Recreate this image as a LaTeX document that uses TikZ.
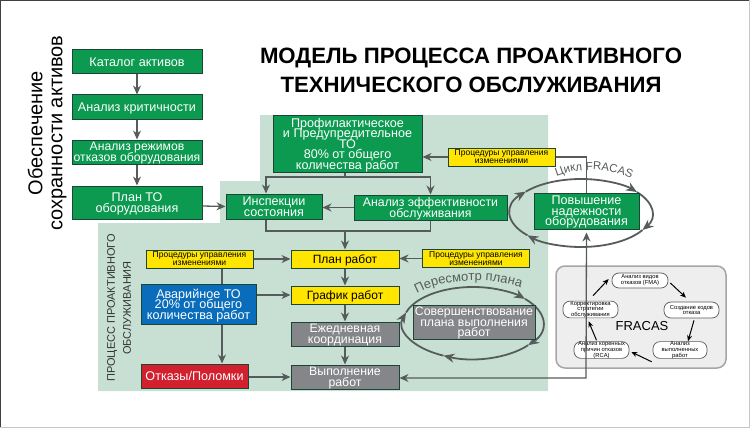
\documentclass[tikz,border=0pt]{standalone}
\usepackage{fontspec}
\setmainfont{Liberation Sans}
\usetikzlibrary{arrows.meta,decorations.text}
\definecolor{boxgreen}{HTML}{0B9A50}
\definecolor{bandgreen}{HTML}{C8E0D3}
\definecolor{edgedark}{HTML}{1D4536}
\definecolor{flowgray}{HTML}{565C5B}
\definecolor{boxyellow}{HTML}{FFE500}
\definecolor{boxblue}{HTML}{0A6DBB}
\definecolor{boxred}{HTML}{D2202F}
\definecolor{boxgray}{HTML}{85868A}
\definecolor{palegray}{HTML}{EEEEEE}
\newcommand{\tightfont}[2]{\lineskiplimit=-20pt\fontsize{#1}{#2}\selectfont}
\tikzset{
    basebox/.style={draw=edgedark, line width=1pt, inner sep=0pt, align=center, text depth=0pt},
    greenbox/.style={basebox, fill=boxgreen, text=white, font=\tightfont{12.6}{10.5}},
    yellowbox/.style={basebox, fill=boxyellow, text=black, font=\tightfont{12}{13}},
    procbox/.style={basebox, fill=boxyellow, text=black, minimum width=107pt, minimum height=18pt, font=\tightfont{8.5}{8}},
    graybox/.style={basebox, fill=boxgray, text=white, font=\tightfont{12.3}{10.5}},
    minibox/.style={draw=flowgray, line width=0.7pt, fill=white, rounded corners=7pt, inner sep=0pt, align=center, font=\tightfont{5.8}{5.8}},
    flow/.style={draw=flowgray, line width=1.3pt, -{Stealth[length=9pt,width=8pt]}},
    plainflow/.style={draw=flowgray, line width=1.3pt},
    ringline/.style={draw=flowgray, line width=1.8pt, -{Stealth[length=11pt,width=9pt]}},
    miniflow/.style={draw=black, line width=1pt, -{Stealth[length=6pt,width=5pt]}},
}
\begin{document}
\begin{tikzpicture}[x=1pt, y=-1pt]
    \useasboundingbox (0,0) rectangle (750,428);
    % frame
    \draw[line width=2.5pt, black!75] (0,428) -- (0,0) -- (750,0);
    \draw[line width=1.5pt, black!22] (750,0) -- (750,428) -- (0,428);

    % title
    \node (title) [align=center, font=\fontsize{22.2}{29}\selectfont\bfseries] at (471,70)
        {МОДЕЛЬ ПРОЦЕССА ПРОАКТИВНОГО\\ТЕХНИЧЕСКОГО ОБСЛУЖИВАНИЯ};
    \node (assetlabel) [rotate=90, align=center, font=\tightfont{20}{20}] at (47,133)
        {Обеспечение\\сохранности активов};

    % green band
    \fill[bandgreen] (260,115) -- (548,115) -- (548,391) -- (98,391) -- (98,223)
        -- (220,223) -- (220,181) -- (260,181) -- cycle;
    \node (processlabel) [rotate=90, align=center, text=black!80, font=\tightfont{11}{16}] at (119,308)
        {ПРОЦЕСС ПРОАКТИВНОГО\\ОБСЛУЖИВАНИЯ};

    % left column
    \node (catalog) [greenbox, minimum width=130pt, minimum height=24pt] at (137,62) {Каталог активов};
    \node (critical) [greenbox, minimum width=130pt, minimum height=24pt] at (137,107) {Анализ критичности};
    \node (modes) [greenbox, minimum width=130pt, minimum height=24pt, font=\tightfont{12.2}{10.5}] at (137,152) {Анализ режимов\\отказов оборудования};
    \node (toplan) [greenbox, minimum width=130pt, minimum height=33pt] at (137,202.5) {План ТО\\оборудования};

    % upper boxes
    \node (prevent) [greenbox, minimum width=149pt, minimum height=57pt] at (347.5,143.5)
        {Профилактическое\\и Предупредительное\\ТО\\80\% от общего\\количества работ};
    \node (inspect) [greenbox, minimum width=96pt, minimum height=25pt] at (274,206.5) {Инспекции\\состояния};
    \node (effect) [greenbox, minimum width=153pt, minimum height=25pt, font=\tightfont{12.3}{10.5}] at (430.5,207.5) {Анализ эффективности\\обслуживания};
    \node (procup) [procbox] at (501.5,157) {Процедуры управления\\изменениями};

    % middle column
    \node (workplan) [yellowbox, minimum width=108pt, minimum height=18pt] at (345,259) {План работ};
    \node (schedule) [yellowbox, minimum width=108pt, minimum height=18pt] at (345,295) {График работ};
    \node (daily) [graybox, minimum width=108pt, minimum height=24pt] at (345,334) {Ежедневная\\координация};
    \node (execute) [graybox, minimum width=108pt, minimum height=24pt] at (345,377) {Выполнение\\работ};
    \node (procleft) [procbox] at (199.5,259) {Процедуры управления\\изменениями};
    \node (procright) [procbox] at (476,258.5) {Процедуры управления\\изменениями};
    \node (urgent) [greenbox, fill=boxblue, minimum width=115pt, minimum height=40pt] at (198.5,304)
        {Аварийное ТО\\20\% от общего\\количества работ};
    \node (failure) [greenbox, fill=boxred, minimum width=107pt, minimum height=24pt] at (194.5,376) {Отказы/Поломки};

    % rings
    \coordinate (planring) at (473,323);
    \coordinate (fracring) at (581,213);
    \draw[ringline] (planring) ++(163:70pt and 36pt) arc (163:42:70pt and 36pt);
    \draw[ringline] (planring) ++(42:70pt and 36pt) arc (42:-38:70pt and 36pt);
    \draw[ringline] (planring) ++(-38:70pt and 36pt) arc (-38:-115:70pt and 36pt);
    \draw[ringline] (planring) ++(-115:70pt and 36pt) arc (-115:-197:70pt and 36pt);
    \draw[ringline] (fracring) ++(141:71pt and 34pt) arc (141:38:71pt and 34pt);
    \draw[ringline] (fracring) ++(38:71pt and 34pt) arc (38:-30:71pt and 34pt);
    \draw[ringline] (fracring) ++(-30:71pt and 34pt) arc (-30:-139:71pt and 34pt);
    \draw[ringline] (fracring) ++(-139:71pt and 34pt) arc (-139:-219:71pt and 34pt);
    \node (improveplan) [graybox, minimum width=122pt, minimum height=34pt] at (474,322)
        {Совершенствование\\плана выполнения\\работ};
    \node (reliable) [greenbox, minimum width=105pt, minimum height=36pt] at (586.5,211)
        {Повышение\\надежности\\оборудования};
    \path[decorate, decoration={text along path, text align=center,
        text={|\fontsize{13}{13}\selectfont\color{flowgray}|Пересмотр плана}}]
        (414,295) .. controls (440,278) and (495,276) .. (524,289);
    \path[decorate, decoration={text along path, text align=center,
        text={|\fontsize{11.5}{12}\selectfont\color{flowgray}|Цикл FRACAS}}]
        (553,178) .. controls (575,167) and (610,167) .. (635,180);

    % FRACAS panel
    \node (fracbox) [draw=black!35, line width=1.5pt, fill=palegray, rounded corners=9pt,
        minimum width=170pt, minimum height=102pt] at (641,317) {};
    \node (fma) [minibox, minimum width=56pt, minimum height=15pt] at (640,280.5) {Анализ видов\\отказов (FMA)};
    \node (codes) [minibox, minimum width=55pt, minimum height=16pt] at (691.5,310) {Создание кодов\\отказа};
    \node (done) [minibox, minimum width=54pt, minimum height=16pt] at (680,350) {Анализ\\выполненных\\работ};
    \node (rca) [minibox, minimum width=55pt, minimum height=16pt] at (601.5,350) {Анализ коренных\\причин отказов\\(RCA)};
    \node (adjust) [minibox, minimum width=55pt, minimum height=15pt] at (590.5,309.5) {Корректировка\\стратегии\\обслуживания};
    \node (fractext) [font=\fontsize{13}{14}\selectfont] at (642,326) {FRACAS};
    \draw[miniflow] ([xshift=2pt,yshift=-2.5pt]fma.east) -- ([xshift=-5.5pt,yshift=4pt]codes.north);
    \draw[miniflow] ([xshift=2.5pt,yshift=-2pt]codes.south) -- ([xshift=8pt,yshift=0pt]done.north);
    \draw[miniflow] ([xshift=-1pt,yshift=-3pt]done.south west) -- ([xshift=2pt,yshift=-2pt]rca.east);
    \draw[miniflow] ([xshift=-5pt,yshift=1pt]rca.north) -- ([xshift=-2pt,yshift=-3pt]adjust.south);
    \draw[miniflow] ([xshift=2.5pt,yshift=5pt]adjust.north) -- ([xshift=-3pt,yshift=1.5pt]fma.west);

    % left column flow
    \draw[flow] (catalog) -- (critical);
    \draw[flow] (critical) -- (modes);
    \draw[flow] (modes) -- (toplan);
    \draw[flow] ([yshift=-3.5pt]toplan.east) -- (inspect.west);

    % upper flow
    \coordinate (split) at (345,177);
    \coordinate (join) at (345,231);
    \draw[plainflow] ([xshift=-2.5pt]prevent.south) -- (split);
    \draw[flow] (split) -| ([xshift=-8pt]inspect.north);
    \draw[flow] (split) -| (effect.north);
    \draw[flow] (effect.west) -- (effect.west -| inspect.east);
    \draw[plainflow] ([xshift=-8pt]inspect.south) |- (join) -| (effect.south);
    \draw[flow] (join) -- (workplan.north);
    \draw[flow] (procup.west) -- (procup.west -| prevent.east);
    \draw[plainflow] (procup.east) -| (reliable.north);

    % middle flow
    \draw[flow] (workplan) -- (schedule);
    \draw[flow] (schedule) -- (daily);
    \draw[flow] (daily) -- (execute);
    \draw[flow] (procleft) -- (workplan);
    \draw[flow] (procright.west) -- (procright.west -| workplan.east);
    \draw[flow] (urgent.east |- schedule) -- (schedule.west);
    \draw[flow] (failure.east |- execute) -- (execute.west);
    \draw[plainflow] ([xshift=22.5pt]procleft.south) -- ([xshift=23.5pt]urgent.north);
    \draw[flow] ([xshift=23.5pt]urgent.south) -- ([xshift=27.5pt]failure.north);

    % long return line
    \coordinate (bend) at (586,378);
    \draw[flow, {Stealth[length=9pt,width=8pt]}-{Stealth[length=9pt,width=8pt]}] ([yshift=-3pt]reliable.south) -- (bend) -- (bend -| execute.east);
\end{tikzpicture}
\end{document}
